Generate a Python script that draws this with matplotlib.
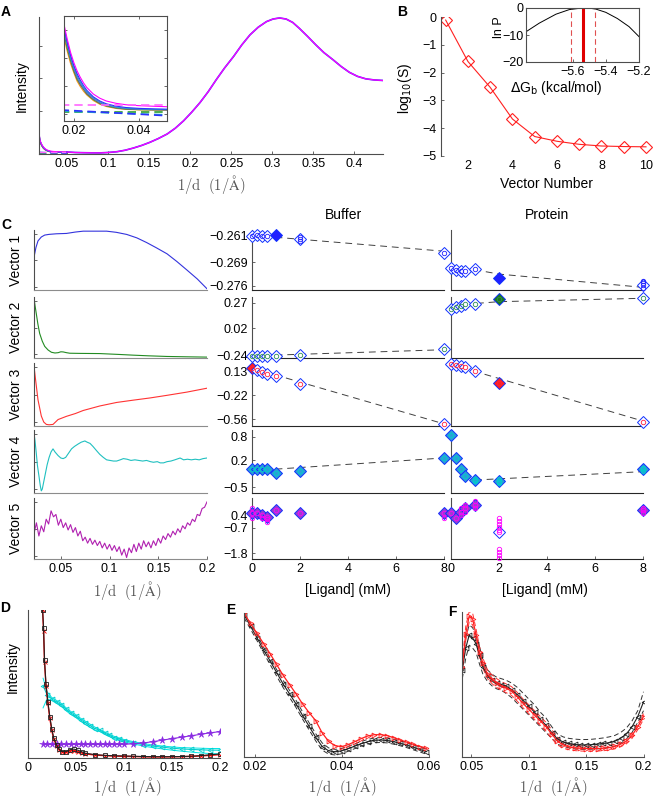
import numpy as np
import matplotlib.pyplot as plt

plt.rcParams['font.family'] = ['Liberation Sans', 'DejaVu Sans']
plt.rcParams['font.size'] = 9

# ---------------------------------------------------------------
# Panel A: scattering profiles (peak normalised to 1)
# ---------------------------------------------------------------
lowq = [0.016, 0.017, 0.018, 0.019, 0.020, 0.021, 0.022, 0.023, 0.024, 0.026, 0.028,
        0.030, 0.033, 0.036, 0.040, 0.045, 0.050]
low_mag = [0.150, 0.096, 0.080, 0.066, 0.055, 0.046, 0.039, 0.033, 0.028, 0.021, 0.0165,
           0.0135, 0.011, 0.0095, 0.0085, 0.0078, 0.0072]
low_blue = [0.145, 0.093, 0.077, 0.063, 0.052, 0.043, 0.036, 0.030, 0.025, 0.018, 0.0135,
            0.0105, 0.008, 0.0065, 0.0056, 0.0050, 0.0046]
low_cyan = [0.142, 0.091, 0.075, 0.061, 0.050, 0.041, 0.034, 0.028, 0.0235, 0.017, 0.0125,
            0.0095, 0.007, 0.0057, 0.0049, 0.0045, 0.0043]
low_purp = [0.140, 0.089, 0.073, 0.059, 0.048, 0.039, 0.032, 0.027, 0.022, 0.016, 0.0115,
            0.0088, 0.0065, 0.0052, 0.0045, 0.0042, 0.0040]
low_green = [0.137, 0.086, 0.070, 0.057, 0.046, 0.037, 0.031, 0.026, 0.021, 0.015, 0.0108,
             0.0082, 0.006, 0.0048, 0.0042, 0.0040, 0.0039]
low_orange = [0.133, 0.082, 0.067, 0.054, 0.044, 0.035, 0.029, 0.024, 0.020, 0.014, 0.010,
              0.0076, 0.0055, 0.0045, 0.0040, 0.0038, 0.0037]
dash_q = [0.016, 0.033, 0.050]
dash_mag = [0.0092, 0.0092, 0.0092]
dash_blue = [0.0039, 0.0007, -0.0026]
dash_cyan = [0.0027, 0.0005, -0.0016]
dash_green = [0.0020, 0.0020, 0.0020]

hq = [0.050, 0.060, 0.070, 0.080, 0.090, 0.100, 0.111, 0.121, 0.131, 0.141, 0.151, 0.161,
      0.172, 0.182, 0.192, 0.202, 0.212, 0.222, 0.232, 0.242, 0.253, 0.263, 0.273, 0.283,
      0.293, 0.301, 0.309, 0.317, 0.325, 0.333, 0.343, 0.353, 0.363, 0.374, 0.384, 0.394,
      0.404, 0.414, 0.424, 0.435]
hq_int = [0.0068, 0.003, 0.0015, 0.0005, 0.0, 0.003, 0.009, 0.020, 0.036, 0.055, 0.078, 0.105,
          0.139, 0.182, 0.236, 0.300, 0.370, 0.450, 0.540, 0.625, 0.710, 0.795, 0.869, 0.925,
          0.966, 0.985, 0.993, 0.985, 0.960, 0.917, 0.858, 0.796, 0.738, 0.686, 0.636, 0.593,
          0.563, 0.545, 0.537, 0.533]
a_xticks = [0.05, 0.1, 0.15, 0.2, 0.25, 0.3, 0.35, 0.4]
a_xlabels = ['0.05', '0.1', '0.15', '0.2', '0.25', '0.3', '0.35', '0.4']

# ---------------------------------------------------------------
# Panel B: singular values and binding free energy
# ---------------------------------------------------------------
vec_num = [1, 2, 3, 4, 5, 6, 7, 8, 9, 10]
log_s = [-0.11, -1.6, -2.53, -3.67, -4.3, -4.47, -4.58, -4.64, -4.66, -4.67]
dg = [-5.88, -5.8, -5.7, -5.62, -5.55, -5.5, -5.46, -5.4, -5.33, -5.26, -5.2]
ln_p = [-8.8, -5.6, -2.3, -0.6, -0.05, -0.05, -0.4, -1.6, -3.9, -6.9, -10.6]
dg_best = -5.536
dg_bounds = [-5.608, -5.462]

# ---------------------------------------------------------------
# Panel C: basis vectors (normalised) and their amplitudes
# ---------------------------------------------------------------
vec1_q = [0.0225, 0.0245, 0.0266, 0.030, 0.0335, 0.038, 0.0455, 0.0558, 0.065, 0.073, 0.085,
          0.097, 0.107, 0.1176, 0.128, 0.138, 0.148, 0.159, 0.169, 0.1794, 0.190, 0.200]
vec1_v = [0.555, 0.72, 0.833, 0.90, 0.933, 0.945, 0.955, 0.961, 0.985, 1.0, 1.0,
          1.0, 0.98, 0.944, 0.885, 0.805, 0.715, 0.611, 0.48, 0.333, 0.18, 0.011]
vec2_q = [0.0225, 0.0235, 0.0249, 0.0265, 0.0283, 0.031, 0.0335, 0.037, 0.0404, 0.044, 0.0472,
          0.050, 0.0524, 0.0559, 0.0592, 0.070, 0.090, 0.110, 0.1245, 0.140, 0.159, 0.180, 0.200]
vec2_v = [1.0, 0.88, 0.732, 0.56, 0.402, 0.27, 0.182, 0.12, 0.082, 0.07, 0.075,
          0.09, 0.088, 0.075, 0.066, 0.063, 0.060, 0.045, 0.033, 0.022, 0.011, 0.005, 0.0]
vec3_q = [0.0225, 0.0242, 0.0266, 0.030, 0.0325, 0.0352, 0.038, 0.042, 0.0472, 0.0558, 0.065,
          0.073, 0.090, 0.1073, 0.1245, 0.1416, 0.159, 0.1794, 0.200]
vec3_v = [0.968, 0.734, 0.415, 0.149, 0.05, 0.011, 0.005, 0.011, 0.091, 0.144, 0.19,
          0.240, 0.314, 0.372, 0.41, 0.446, 0.489, 0.542, 0.606]
vec4_q = [0.0225, 0.0235, 0.0249, 0.026, 0.0277, 0.029, 0.030, 0.031, 0.0335, 0.036, 0.038,
          0.040, 0.042, 0.044, 0.0472, 0.050, 0.0524, 0.055, 0.058, 0.061, 0.064, 0.0678,
          0.071, 0.0747, 0.077, 0.080, 0.083, 0.0867, 0.090, 0.0936, 0.097, 0.1005, 0.104,
          0.1073, 0.111, 0.1142, 0.118, 0.122, 0.126, 0.130, 0.134, 0.138, 0.142, 0.145,
          0.149, 0.152, 0.1554, 0.159, 0.163, 0.167, 0.1724, 0.176, 0.180, 0.184, 0.188,
          0.192, 0.196, 0.200]
vec4_v = [0.963, 0.85, 0.63, 0.44, 0.25, 0.10, 0.02, 0.05, 0.25, 0.45, 0.57,
          0.66, 0.71, 0.66, 0.60, 0.56, 0.55, 0.57, 0.64, 0.71, 0.75, 0.79,
          0.82, 0.84, 0.82, 0.80, 0.75, 0.68, 0.62, 0.57, 0.53, 0.52, 0.51,
          0.51, 0.53, 0.55, 0.54, 0.52, 0.53, 0.52, 0.51, 0.52, 0.50, 0.49,
          0.50, 0.48, 0.48, 0.50, 0.51, 0.53, 0.56, 0.53, 0.54, 0.53, 0.54,
          0.53, 0.55, 0.56]
vec5_q = [0.0225, 0.025, 0.0275, 0.030, 0.0325, 0.035, 0.0375, 0.040, 0.0425, 0.045, 0.0475,
          0.050, 0.0525, 0.055, 0.0575, 0.060, 0.0625, 0.065, 0.0675, 0.070, 0.0725, 0.075,
          0.0775, 0.080, 0.0825, 0.085, 0.0875, 0.090, 0.0925, 0.095, 0.0975, 0.100, 0.1025,
          0.105, 0.1075, 0.110, 0.1125, 0.115, 0.1175, 0.120, 0.1225, 0.125, 0.1275, 0.130,
          0.1325, 0.135, 0.1375, 0.140, 0.1425, 0.145, 0.1475, 0.150, 0.1525, 0.155, 0.1575,
          0.160, 0.1625, 0.165, 0.1675, 0.170, 0.1725, 0.175, 0.1775, 0.180, 0.1825, 0.185,
          0.1875, 0.190, 0.1925, 0.195, 0.1975, 0.200]
vec5_v = [0.42, 0.60, 0.38, 0.55, 0.45, 0.66, 0.58, 0.80, 0.70, 0.74, 0.56,
          0.66, 0.52, 0.60, 0.48, 0.57, 0.44, 0.52, 0.38, 0.46, 0.30, 0.36,
          0.26, 0.34, 0.24, 0.31, 0.22, 0.29, 0.18, 0.26, 0.16, 0.24, 0.14,
          0.22, 0.12, 0.20, 0.06, 0.16, 0.02, 0.18, 0.10, 0.24, 0.12, 0.26,
          0.16, 0.30, 0.20, 0.28, 0.18, 0.30, 0.22, 0.34, 0.26, 0.38, 0.32,
          0.42, 0.36, 0.46, 0.40, 0.50, 0.44, 0.55, 0.50, 0.60, 0.56, 0.66,
          0.62, 0.74, 0.72, 0.84, 0.86, 0.95]
c_xticks = [0.05, 0.1, 0.15, 0.2]
c_xlabels = ['0.05', '0.1', '0.15', '0.2']

conc = [0, 0.2, 0.4, 0.6, 1, 2, 8]
buf1 = [-0.2610, -0.2607, -0.2610, -0.2609, -0.2606, -0.2618, -0.2662]
pro1 = [-0.2708, -0.2713, -0.2715, -0.2716, -0.2711, -0.2738, -0.2758]
buf2 = [-0.247, -0.242, -0.242, -0.242, -0.242, -0.234, -0.182]
pro2 = [0.206, 0.225, 0.241, 0.254, 0.260, 0.303, 0.313]
buf3 = [0.177, 0.144, 0.116, 0.087, 0.058, -0.057, -0.636]
pro3 = [0.226, 0.216, 0.202, 0.183, 0.126, -0.047, -0.599]
buf4 = [-0.022, -0.038, -0.038, -0.038, -0.140, -0.074, 0.245]
pro4 = [0.844, 0.245, -0.038, -0.210, -0.313, -0.338, -0.038]
buf5 = [0.50, 0.50, 0.40, 0.30, 0.69, 0.50, 0.50]
pro5 = [0.50, 0.23, 0.59, 0.80, 0.97, -0.56, 0.69]

# replicate measurements that stand apart from the mean
buf_rep_x = [[2, 2], [], [], [], [0, 0, 0.4, 0.6, 0.6, 8]]
buf_rep_y = [[-0.2612, -0.2625], [], [], [], [0.8, 0.2, 0.2, 0.0, 0.15, 0.2]]
pro_rep_x = [[8, 8, 8], [], [], [1, 1, 2, 2, 2, 8, 8],
             [0.4, 0.4, 0.6, 0.6, 1, 1, 2, 2, 2, 2, 2, 2, 2, 2, 2, 8, 8]]
pro_rep_y = [[-0.2745, -0.2752, -0.2768], [], [], [-0.28, -0.34, -0.29, -0.36, -0.38, 0.0, -0.07],
             [0.8, 0.4, 1.0, 0.6, 1.2, 0.8, 0.21, 0.06, -0.12, -0.29, -0.46, -1.55, -1.72,
              -1.90, -2.07, 0.5, 0.8]]

# dashed fits
buf_fit_x = [[0, 8], [0, 8], [0, 8], [0, 8], []]
buf_fit_y = [[-0.2608, -0.2656], [-0.245, -0.186], [0.17, -0.63], [-0.074, 0.254], []]
pro_fit_x = [[0, 1, 2, 8], [0.6, 1, 2, 8], [0, 8], [1, 8], []]
pro_fit_y = [[-0.2708, -0.2712, -0.2725, -0.2765], [0.25, 0.262, 0.280, 0.313],
             [0.226, -0.59], [-0.313, -0.098], []]

row_ylims = [(-0.2773, -0.2592), (-0.2633, 0.3253), (-0.6563, 0.245), (-0.639, 0.972),
             (-2.145, 1.394)]
row_yticks = [[-0.276, -0.269, -0.261], [-0.24, 0.02, 0.27], [-0.56, -0.22, 0.13],
              [-0.5, 0.2, 0.8], [-1.8, -0.33, 0.4]]
row_yticklabels = [['\u22120.276', '\u22120.269', '\u22120.261'],
                   ['\u22120.24', '0.02', '0.27'],
                   ['\u22120.56', '\u22120.22', '0.13'],
                   ['\u22120.5', '0.2', '0.8'],
                   ['\u22121.8', '\u22120.7', '0.4']]
lig_ticks = [0, 2, 4, 6, 8]

# ---------------------------------------------------------------
# Panels D, E, F: reconstructed profiles
# ---------------------------------------------------------------
d_q = [0.0155, 0.0165, 0.0175, 0.019, 0.021, 0.023, 0.025, 0.027, 0.030, 0.033, 0.036,
       0.040, 0.044, 0.048, 0.052, 0.056, 0.060, 0.070, 0.080, 0.090, 0.100, 0.110,
       0.120, 0.130, 0.140, 0.150, 0.160, 0.170, 0.180, 0.190, 0.200]
d_black = [1.00, 0.88, 0.66, 0.50, 0.38, 0.28, 0.20, 0.14, 0.09, 0.06, 0.045,
           0.045, 0.058, 0.062, 0.055, 0.045, 0.034, 0.025, 0.020, 0.017, 0.016, 0.014,
           0.012, 0.011, 0.011, 0.011, 0.012, 0.014, 0.018, 0.024, 0.029]
d_red = [1.00, 0.86, 0.65, 0.49, 0.37, 0.27, 0.19, 0.13, 0.085, 0.055, 0.042,
         0.040, 0.050, 0.052, 0.045, 0.038, 0.030, 0.022, 0.018, 0.015, 0.013, 0.012,
         0.010, 0.009, 0.009, 0.010, 0.011, 0.013, 0.016, 0.020, 0.025]
c_q = [0.016, 0.020, 0.025, 0.030, 0.035, 0.040, 0.045, 0.050, 0.055, 0.060, 0.065, 0.070,
       0.075, 0.080, 0.085, 0.090, 0.095, 0.100, 0.110, 0.120, 0.130, 0.140, 0.150, 0.160,
       0.170, 0.180, 0.190, 0.200]
d_cyan = [0.49, 0.43, 0.40, 0.38, 0.36, 0.33, 0.305, 0.285, 0.26, 0.24, 0.22, 0.20,
          0.19, 0.17, 0.155, 0.14, 0.13, 0.12, 0.105, 0.092, 0.082, 0.075, 0.068, 0.063,
          0.06, 0.057, 0.055, 0.055]
d_cyan_hi = [0.54, 0.45, 0.41, 0.39, 0.37, 0.34, 0.315, 0.295, 0.27, 0.25, 0.23, 0.21,
             0.195, 0.178, 0.162, 0.148, 0.137, 0.127, 0.112, 0.10, 0.09, 0.083, 0.077, 0.072,
             0.07, 0.068, 0.066, 0.066]
d_cyan_lo = [0.34, 0.40, 0.39, 0.37, 0.35, 0.32, 0.295, 0.275, 0.25, 0.23, 0.21, 0.19,
             0.18, 0.162, 0.148, 0.132, 0.122, 0.112, 0.097, 0.083, 0.072, 0.063, 0.055, 0.048,
             0.042, 0.036, 0.032, 0.030]
d_purple = [0.094, 0.094, 0.094, 0.094, 0.094, 0.094, 0.094, 0.094, 0.094, 0.094, 0.094, 0.094,
            0.094, 0.094, 0.094, 0.094, 0.094, 0.094, 0.098, 0.103, 0.112, 0.122, 0.133, 0.142,
            0.152, 0.162, 0.172, 0.180]
d_xticks = [0, 0.05, 0.1, 0.15, 0.2]
d_xlabels = ['0', '0.05', '0.1', '0.15', '0.2']

e_q = [0.0175, 0.019, 0.0205, 0.022, 0.0235, 0.025, 0.0265, 0.028, 0.0295, 0.031, 0.0325,
       0.034, 0.0355, 0.037, 0.0385, 0.040, 0.0415, 0.043, 0.0445, 0.046, 0.0475, 0.049,
       0.0505, 0.052, 0.0535, 0.055, 0.0565, 0.058, 0.0595]
e_red = [1.00, 0.93, 0.86, 0.79, 0.72, 0.645, 0.57, 0.505, 0.44, 0.37, 0.31,
         0.255, 0.17, 0.11, 0.08, 0.074, 0.088, 0.108, 0.13, 0.148, 0.157, 0.157,
         0.15, 0.136, 0.12, 0.105, 0.09, 0.075, 0.062]
e_black = [0.99, 0.91, 0.83, 0.745, 0.67, 0.59, 0.51, 0.44, 0.37, 0.29, 0.215,
           0.14, 0.075, 0.045, 0.038, 0.045, 0.06, 0.077, 0.094, 0.108, 0.118, 0.12,
           0.117, 0.108, 0.097, 0.085, 0.07, 0.055, 0.04]
e_black_hi = [1.00, 0.93, 0.85, 0.765, 0.69, 0.61, 0.535, 0.465, 0.395, 0.315, 0.24,
              0.165, 0.10, 0.065, 0.055, 0.062, 0.076, 0.093, 0.11, 0.124, 0.134, 0.137,
              0.134, 0.125, 0.114, 0.102, 0.087, 0.072, 0.057]
e_black_lo = [0.97, 0.89, 0.81, 0.725, 0.645, 0.565, 0.485, 0.415, 0.345, 0.265, 0.19,
              0.115, 0.05, 0.022, 0.016, 0.025, 0.042, 0.06, 0.078, 0.092, 0.101, 0.103,
              0.10, 0.091, 0.08, 0.067, 0.052, 0.037, 0.022]
e_xticks = [0.02, 0.04, 0.06]
e_xlabels = ['0.02', '0.04', '0.06']

f_q = [0.042, 0.045, 0.048, 0.051, 0.054, 0.057, 0.060, 0.064, 0.068, 0.072, 0.076, 0.080,
       0.085, 0.090, 0.095, 0.100, 0.105, 0.110, 0.115, 0.120, 0.125, 0.130, 0.135, 0.140,
       0.145, 0.150, 0.155, 0.160, 0.165, 0.170, 0.175, 0.180, 0.185, 0.190, 0.195, 0.200]
f_red = [0.62, 0.85, 0.97, 0.95, 0.84, 0.72, 0.645, 0.57, 0.535, 0.51, 0.49, 0.475,
         0.455, 0.415, 0.37, 0.33, 0.29, 0.25, 0.21, 0.16, 0.11, 0.085, 0.072, 0.065,
         0.062, 0.06, 0.06, 0.06, 0.062, 0.066, 0.075, 0.09, 0.11, 0.15, 0.21, 0.28]
f_red_hi = [0.66, 0.90, 1.00, 0.99, 0.88, 0.76, 0.68, 0.60, 0.565, 0.54, 0.52, 0.505,
            0.485, 0.445, 0.40, 0.36, 0.32, 0.28, 0.24, 0.19, 0.135, 0.105, 0.09, 0.082,
            0.078, 0.076, 0.075, 0.075, 0.077, 0.081, 0.09, 0.105, 0.125, 0.165, 0.225, 0.30]
f_red_lo = [0.58, 0.80, 0.93, 0.91, 0.80, 0.68, 0.61, 0.54, 0.505, 0.48, 0.46, 0.445,
            0.425, 0.385, 0.34, 0.30, 0.26, 0.22, 0.18, 0.13, 0.085, 0.062, 0.052, 0.046,
            0.043, 0.042, 0.042, 0.043, 0.045, 0.05, 0.058, 0.072, 0.092, 0.13, 0.19, 0.26]
f_black = [0.60, 0.75, 0.84, 0.82, 0.78, 0.70, 0.62, 0.56, 0.53, 0.51, 0.50, 0.49,
           0.465, 0.43, 0.39, 0.35, 0.31, 0.26, 0.22, 0.17, 0.125, 0.105, 0.095, 0.088,
           0.085, 0.085, 0.087, 0.09, 0.095, 0.10, 0.11, 0.13, 0.16, 0.21, 0.28, 0.38]
f_black_hi = [0.66, 0.82, 0.91, 0.89, 0.84, 0.76, 0.67, 0.60, 0.57, 0.55, 0.54, 0.53,
              0.51, 0.48, 0.44, 0.40, 0.36, 0.31, 0.27, 0.21, 0.16, 0.14, 0.13, 0.125,
              0.122, 0.122, 0.124, 0.128, 0.133, 0.14, 0.15, 0.17, 0.20, 0.25, 0.32, 0.45]
f_black_lo = [0.54, 0.68, 0.77, 0.75, 0.72, 0.64, 0.57, 0.52, 0.49, 0.47, 0.46, 0.44,
              0.41, 0.37, 0.33, 0.29, 0.25, 0.21, 0.17, 0.13, 0.09, 0.075, 0.065, 0.058,
              0.055, 0.055, 0.056, 0.058, 0.062, 0.068, 0.077, 0.095, 0.125, 0.17, 0.24, 0.32]
f_xticks = [0.05, 0.1, 0.15, 0.2]
f_xlabels = ['0.05', '0.1', '0.15', '0.2']

# ---------------------------------------------------------------
# figure helpers (pixel based layout, 656 x 798)
# ---------------------------------------------------------------
W, H = 656, 798
fig = plt.figure(figsize=(W / 100, H / 100), dpi=100)

AXC = '#4d4d4d'
QLABEL = r'$\mathrm{1/d\ \ (1/\AA)}$'


def box(l, t, r, b):
    return fig.add_axes([l / W, 1 - b / H, (r - l) / W, (b - t) / H])


def ftext(x, y, s, **kw):
    kw.setdefault('ha', 'center')
    kw.setdefault('va', 'center')
    return fig.text(x / W, 1 - y / H, s, **kw)


def clean(ax, left=True, bottom=True, full=False):
    for side in ('top', 'right'):
        ax.spines[side].set_visible(full)
    ax.spines['left'].set_visible(left)
    ax.spines['bottom'].set_visible(bottom)
    for sp in ax.spines.values():
        sp.set_color(AXC)
        sp.set_linewidth(0.8)
    ax.tick_params(direction='in', length=2.5, width=0.6, color=AXC,
                   labelcolor='black', labelsize=9, pad=3)
    ax.patch.set_alpha(0)


def qlabel(x, y):
    ftext(x, y, QLABEL, fontsize=10.5, color='#555555', math_fontfamily='cm')


# ---------------- Panel A ----------------
low_sets = [(low_orange, '#ff8c1a'), (low_green, '#2ca02c'), (low_purp, '#8040c0'),
            (low_cyan, '#20b0c0'), (low_blue, '#3030ff'), (low_mag, '#ff00ff')]
dash_sets = [(dash_green, '#2ca02c'), (dash_cyan, '#20b0c0'), (dash_blue, '#3030ff'),
             (dash_mag, '#ff66ff')]

axA = box(39, 17, 383, 154)
clean(axA)
for vals, col in low_sets:
    axA.plot(lowq, vals, color=col, lw=0.8)
for vals, col in dash_sets:
    axA.plot(dash_q, vals, color=col, lw=1.0, ls=(0, (5, 3)))
axA.plot(hq, hq_int, color='#3030ff', lw=1.2)
axA.plot(hq, hq_int, color='#ff00ff', lw=0.9)
axA.set_xlim(0.0159, 0.435)
axA.set_ylim(-0.008, 1.0)
axA.set_xticks(a_xticks)
axA.set_xticklabels(a_xlabels)
axA.set_yticks([0.31, 0.55, 0.79])
axA.set_yticklabels([])
ftext(22, 86, 'Intensity', fontsize=10, rotation=90)
qlabel(211, 185)

axAi = box(64, 16, 167, 121)
clean(axAi, full=True)
axAi.patch.set_alpha(1)
axAi.patch.set_facecolor('white')
for vals, col in low_sets:
    axAi.plot(lowq, vals, color=col, lw=0.8)
for vals, col in dash_sets:
    axAi.plot(dash_q, vals, color=col, lw=1.2, ls=(0, (5, 3)))
axAi.set_xlim(0.017, 0.0486)
axAi.set_ylim(-0.008, 0.105)
axAi.set_xticks([0.02, 0.04])
axAi.set_xticklabels(['0.02', '0.04'])
axAi.set_yticks([0.0, 0.03, 0.06, 0.09])
axAi.set_yticklabels([])
axAi.tick_params(top=True, right=True)

# ---------------- Panel B ----------------
axB = box(441, 17, 652, 156)
clean(axB, bottom=False)
axB.plot(vec_num, log_s, color='#ff2020', lw=0.8, marker='D', ms=6,
         mfc='none', mec='#ff2020', mew=0.8)
axB.set_xlim(0.79, 10.27)
axB.set_ylim(-5, 0)
axB.set_xticks([2, 4, 6, 8, 10])
axB.set_yticks([-5, -4, -3, -2, -1, 0])
axB.tick_params(axis='x', length=0)
ftext(405, 88, r'log$_{\mathsf{10}}$(S)', fontsize=10, rotation=90)
ftext(546, 184, 'Vector Number', fontsize=10)

axBi = box(526, 8, 639, 62)
clean(axBi, full=True)
axBi.patch.set_alpha(1)
axBi.patch.set_facecolor('white')
axBi.plot(dg, ln_p, color='black', lw=0.7)
axBi.axvline(dg_best, color='#e00000', lw=2.2)
for xv in dg_bounds:
    axBi.axvline(xv, color='#e05050', lw=0.8, ls=(0, (5, 3)))
axBi.set_xlim(-5.88, -5.2)
axBi.set_ylim(-20, 0)
axBi.set_xticks([-5.6, -5.4, -5.2])
axBi.set_yticks([-20, -10, 0])
axBi.tick_params(axis='y', pad=2)
ftext(499, 27, 'ln P', fontsize=9, rotation=90)
ftext(556, 88, r'$\Delta$G$_{\mathsf{b}}$ (kcal/mol)', fontsize=10)

# ---------------- Panel C ----------------
rows_px = [(230, 290), (297, 357.7), (363, 425.7), (430, 492.7), (497.7, 559.3)]
vec_q = [vec1_q, vec2_q, vec3_q, vec4_q, vec5_q]
vec_v = [vec1_v, vec2_v, vec3_v, vec4_v, vec5_v]
vec_col = ['#3333dd', '#228b22', '#ff3333', '#20c0c0', '#b020b0']
buf_rows = [buf1, buf2, buf3, buf4, buf5]
pro_rows = [pro1, pro2, pro3, pro4, pro5]
circ_col = ['#2020ff', '#2e8b57', '#ff2040', '#00cccc', '#ff00ff']
face_col = ['#2020ff', '#1a7a1a', '#ff2020', '#2a9fd6', '#9a3fd0']
buf_fill = [[4], [], [0], [0, 1, 2, 3, 4, 5, 6], [0, 1, 2, 3, 4, 5, 6]]
pro_fill = [[5], [5], [5], [0, 1, 2, 3, 4, 5, 6], [0, 1, 2, 3, 4, 6]]


def amplitude_points(ax, vals, fill, rep_x, rep_y, i):
    for j, (xc, yv) in enumerate(zip(conc, vals)):
        fc = face_col[i] if j in fill else 'white'
        ax.plot([xc], [yv], marker='D', ms=6, mfc=fc, mec='#1030ff', mew=0.7,
                ls='none', clip_on=False, zorder=3)
    ax.plot(conc, vals, marker='o', ms=3.2, mfc='none', mec=circ_col[i], mew=0.6,
            ls='none', clip_on=False, zorder=4)
    if rep_x:
        ax.plot(rep_x, rep_y, marker='o', ms=3.2, mfc='none', mec=circ_col[i], mew=0.6,
                ls='none', clip_on=False, zorder=4)


for i, (t, b) in enumerate(rows_px):
    last = i == len(rows_px) - 1
    # basis vector
    axv = box(34, t, 207, b)
    clean(axv)
    axv.spines['bottom'].set_color('#8c8c8c')
    axv.plot(vec_q[i], vec_v[i], color=vec_col[i], lw=0.8)
    axv.set_xlim(0.0225, 0.2)
    axv.set_ylim(-0.01, 1.02)
    axv.set_yticks([0.05, 0.5, 0.95])
    axv.set_yticklabels([])
    if last:
        axv.set_xticks(c_xticks)
        axv.set_xticklabels(c_xlabels)
    else:
        axv.set_xticks([])
    ftext(16.5, (t + b) / 2, 'Vector %d' % (i + 1), fontsize=10, rotation=90)

    # buffer amplitudes
    axb = box(252.3, t, 444, b)
    clean(axb)
    axb.spines['bottom'].set_color('#262626')
    if buf_fit_x[i]:
        axb.plot(buf_fit_x[i], buf_fit_y[i], color='#404040', lw=0.7, ls=(0, (7, 5)))
    amplitude_points(axb, buf_rows[i], buf_fill[i], buf_rep_x[i], buf_rep_y[i], i)
    axb.set_xlim(0, 8)
    axb.set_ylim(*row_ylims[i])
    axb.set_yticks(row_yticks[i])
    axb.set_yticklabels(row_yticklabels[i])

    # protein amplitudes
    axp = box(451, t, 643, b)
    clean(axp)
    axp.spines['bottom'].set_color('#262626')
    if pro_fit_x[i]:
        axp.plot(pro_fit_x[i], pro_fit_y[i], color='#404040', lw=0.7, ls=(0, (7, 5)))
    amplitude_points(axp, pro_rows[i], pro_fill[i], pro_rep_x[i], pro_rep_y[i], i)
    axp.set_xlim(0, 8)
    axp.set_ylim(*row_ylims[i])
    axp.set_yticks([])

    for ax in (axb, axp):
        if last:
            ax.set_xticks(lig_ticks)
            ax.set_xticklabels([str(v) for v in lig_ticks])
        else:
            ax.set_xticks([])

ftext(343, 215, 'Buffer', fontsize=10)
ftext(547, 215, 'Protein', fontsize=10)
qlabel(127, 590)
ftext(348, 590, '[Ligand] (mM)', fontsize=10)
ftext(545, 590, '[Ligand] (mM)', fontsize=10)

# ---------------- Panel D ----------------
axD = box(27.7, 610, 220, 758.3)
clean(axD)
axD.plot(c_q, d_cyan_hi, color='#00e5e5', lw=0.7)
axD.plot(c_q, d_cyan_lo, color='#00e5e5', lw=0.7)
axD.plot(c_q, d_cyan, color='#00cccc', lw=0.8, marker='<', ms=3.5, mfc='none', mew=0.6)
axD.plot(c_q, d_purple, color='#8a2be2', lw=0.8, marker='*', ms=5.5, mew=0.4)
axD.plot(d_q, d_red, color='#ff0000', lw=1.0, marker='x', ms=2.5, mew=0.6)
axD.plot(d_q, d_black, color='#202020', lw=0.8, marker='s', ms=2.5, mfc='none', mew=0.6)
axD.set_xlim(0, 0.2)
axD.set_ylim(0, 1.0)
axD.set_xticks(d_xticks)
axD.set_xticklabels(d_xlabels)
axD.set_yticks([])
axD.tick_params(axis='x', length=0)
ftext(13, 667, 'Intensity', fontsize=10, rotation=90)
qlabel(127, 786)

# ---------------- Panel E ----------------
axE = box(244, 613.3, 428.5, 757.3)
clean(axE)
axE.plot(e_q, e_black_hi, color='#303030', lw=0.7, ls=(0, (5, 3)))
axE.plot(e_q, e_black_lo, color='#303030', lw=0.7, ls=(0, (5, 3)))
axE.plot(e_q, e_black, color='#202020', lw=0.8, marker='<', ms=3.5, mfc='none', mew=0.6)
axE.plot(e_q, e_red, color='#ff2020', lw=0.9, marker='>', ms=3.5, mfc='none', mew=0.6)
axE.set_xlim(0.0175, 0.06)
axE.set_ylim(0, 1.0)
axE.set_xticks(e_xticks)
axE.set_xticklabels(e_xlabels)
axE.set_yticks([])
qlabel(342, 786)

# ---------------- Panel F ----------------
axF = box(462.3, 611.7, 643.5, 757.3)
clean(axF)
for vals in (f_black_hi, f_black_lo):
    axF.plot(f_q, vals, color='#303030', lw=0.7, ls=(0, (5, 3)))
for vals in (f_red_hi, f_red_lo):
    axF.plot(f_q, vals, color='#ff3030', lw=0.7, ls=(0, (5, 3)))
axF.plot(f_q, f_black, color='#202020', lw=0.8, marker='<', ms=3.5, mfc='none', mew=0.6)
axF.plot(f_q, f_red, color='#ff2020', lw=0.9, marker='>', ms=3.5, mfc='none', mew=0.6)
axF.set_xlim(0.042, 0.2)
axF.set_ylim(0, 1.0)
axF.set_xticks(f_xticks)
axF.set_xticklabels(f_xlabels)
axF.set_yticks([])
qlabel(553, 786)

# panel letters
for letter, (x, y) in zip('ABCDEF', [(6, 12), (402, 12), (6, 225), (5, 608), (231, 610),
                                     (452, 612)]):
    ftext(x, y, letter, fontsize=10, fontweight='bold')

fig.savefig('out.png', dpi=100)
